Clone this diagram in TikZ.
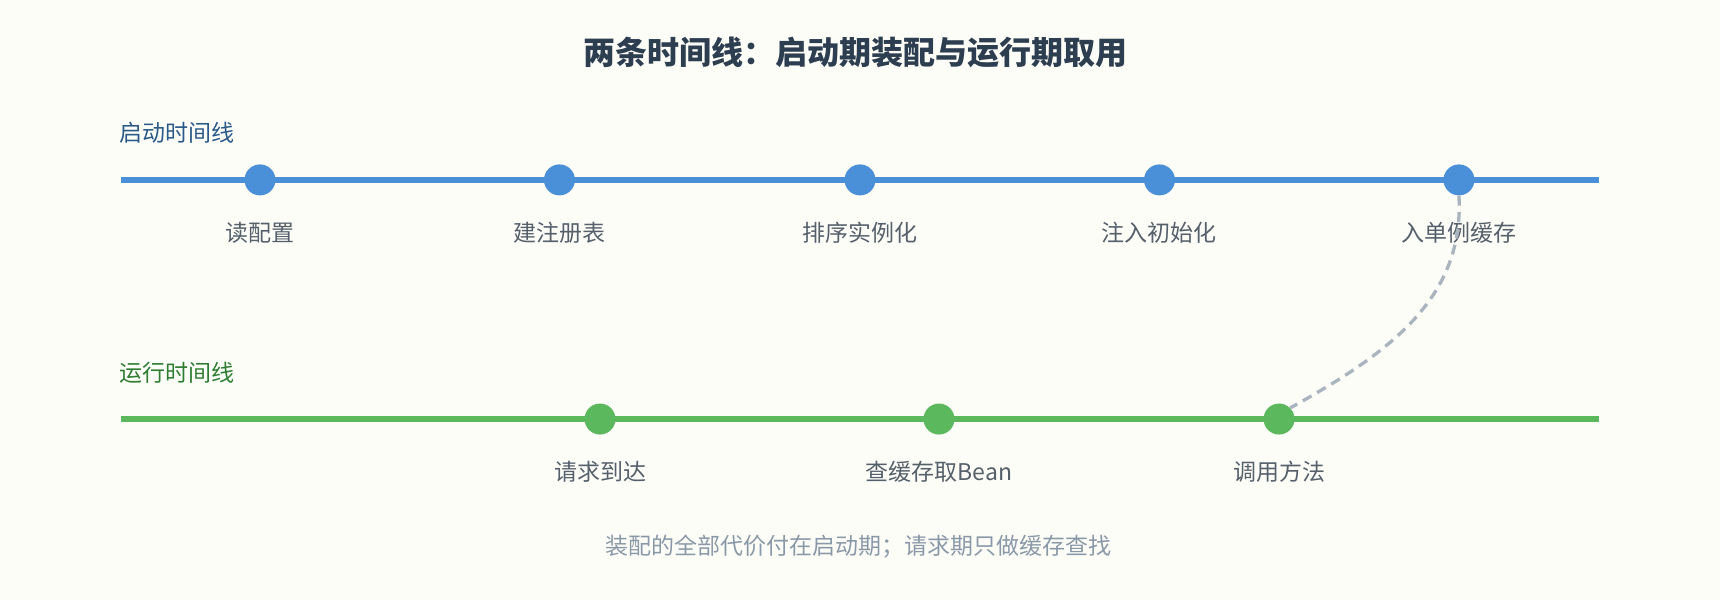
\documentclass[tikz,border=0pt]{standalone}
\usepackage{fontspec}
\setmainfont{Noto Sans CJK SC}
\definecolor{bg}{HTML}{FDFDF8}
\definecolor{blueline}{HTML}{4A90D9}
\definecolor{greenline}{HTML}{5CB85C}
\definecolor{lblc}{HTML}{55606B}
\definecolor{titlec}{HTML}{2C3E50}
\definecolor{t1c}{HTML}{2A5A8A}
\definecolor{t2c}{HTML}{2E7D32}
\definecolor{dashc}{HTML}{AAB4BE}
\definecolor{footc}{HTML}{8A99A8}
\begin{document}
\begin{tikzpicture}[x=1.097pt,y=-1.097pt,
  lbl/.style={font=\fontsize{23}{27}\selectfont,text=lblc},
  bdot/.style={circle,fill=blueline,minimum size=31pt,inner sep=0pt},
  gdot/.style={circle,fill=greenline,minimum size=31pt,inner sep=0pt}]
\fill[bg] (0,0) rectangle (1568,547);
\useasboundingbox (0,0) rectangle (1568,547);
\node[font=\fontsize{32}{38}\selectfont\bfseries,text=titlec] (title) at (780,48) {两条时间线：启动期装配与运行期取用};
\node[anchor=west,font=\fontsize{23}{27}\selectfont,text=t1c] (t1) at (106,121) {启动时间线};
\node[anchor=west,font=\fontsize{23}{27}\selectfont,text=t2c] (t2) at (106,340) {运行时间线};
\coordinate (b0) at (110,164); \coordinate (b1) at (1458,164);
\coordinate (g0) at (110,382); \coordinate (g1) at (1458,382);
\draw[blueline,line width=5.5pt] (b0) -- (b1);
\draw[greenline,line width=5.5pt] (g0) -- (g1);
\foreach \n/\x/\t in {a/237/读配置,b/510/建注册表,c/784/排序实例化,d/1057/注入初始化,e/1330/入单例缓存}{
  \node[bdot] (\n) at (\x,164) {};
  \node[lbl] (\n l) at (\x,212) {\t};
}
\foreach \n/\x/\t in {f/547/请求到达,g/856/查缓存取Bean,h/1166/调用方法}{
  \node[gdot] (\n) at (\x,382) {};
  \node[lbl] (\n l) at (\x,430) {\t};
}
\draw[dashc,line width=3.3pt,dash pattern=on 10pt off 6.5pt] (e.south) .. controls (1335,270) and (1270,320) .. (h.north east);
\node[font=\fontsize{23}{27}\selectfont,text=footc] (foot) at (783,498) {装配的全部代价付在启动期；请求期只做缓存查找};
\end{tikzpicture}
\end{document}
